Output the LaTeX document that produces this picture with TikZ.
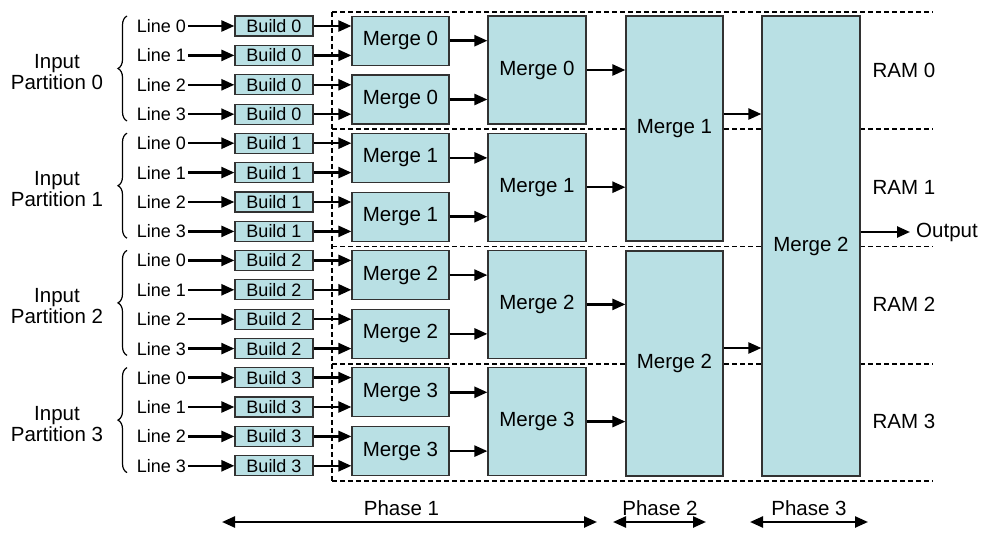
\documentclass[tikz,border=0pt]{standalone}
\usepackage{fontspec}
\setmainfont{Liberation Sans}
\usetikzlibrary{arrows.meta,decorations.pathreplacing,calc}
\definecolor{boxfill}{RGB}{185,224,228}
\definecolor{boxline}{RGB}{50,50,50}
\begin{document}
\begin{tikzpicture}[x=1pt,y=-1pt,
 box/.style={draw=boxline,line width=1.2pt,fill=boxfill,inner sep=0pt,font=\fontsize{20.5}{22}\selectfont},
 bbox/.style={box,minimum width=78pt,minimum height=20pt,font=\fontsize{18}{20}\selectfont},
 lbl/.style={inner sep=0pt,font=\fontsize{18}{20}\selectfont},
 big/.style={inner sep=0pt,font=\fontsize{20.5}{21}\selectfont,align=center},
 arr/.style={line width=2.4pt,-{Triangle[length=13pt,width=11pt]}},
 darr/.style={line width=2.4pt,{Triangle[length=13pt,width=11pt]}-{Triangle[length=13pt,width=11pt]}},
 region/.style={line width=1.6pt,dash pattern=on 5pt off 3pt},
 brc/.style={decorate,decoration={brace,amplitude=9pt},line width=1.2pt}
]
\useasboundingbox (0,0) rectangle (981,534);
% dashed RAM regions
\coordinate (rtl) at (332,12);
\coordinate (rbl) at (332,481);
\draw[region] (rtl) -- (rbl);
\foreach \p in {0,...,4}{
  \pgfmathsetmacro\yy{12+117.25*\p}
  \draw[region] (332,\yy) -- (933,\yy);
}
\foreach \p in {0,...,3}{
  \pgfmathsetmacro\dy{117.2*\p}
  % input label and brace
  \node[big] (I\p) at (57,{72+\dy}) {Input\\Partition \p};
  \draw[brc] (127,{121+\dy}) -- (127,{16+\dy});
  % small merges
  \foreach \j in {0,1}{
    \node[box,minimum width=97pt,minimum height=49pt] (M\p\j) at (400.5,{40.7+\dy+58.8*\j}) {Merge \p};
  }
  % level 2 merge
  \node[box,minimum width=98pt,minimum height=108pt] (N\p) at (537,{70+\dy}) {Merge \p};
  \foreach \j in {0,1}{
    \draw[arr] (M\p\j.east) -- (M\p\j.east -| N\p.west);
  }
  % lines and builds
  \foreach \k in {0,...,3}{
    \pgfmathsetmacro\ry{26+\dy+29.4*\k}
    \pgfmathtruncatemacro\jj{int(\k/2)}
    \node[lbl,anchor=east] (L\p\k) at (186,\ry) {Line \k};
    \node[bbox] (B\p\k) at (274,\ry) {Build \p};
    \draw[arr] ([xshift=2pt]L\p\k.east) -- (B\p\k.west);
    \draw[arr] (B\p\k.east) -- (B\p\k.east -| M\p\jj.west);
  }
  % RAM labels
  \node[big] (R\p) at (904,{70+\dy}) {RAM \p};
}
% phase 2
\node[box,minimum width=97pt,minimum height=225pt] (P0) at (674.5,128.5) {Merge 1};
\node[box,minimum width=97pt,minimum height=225pt] (P1) at (674.5,363.5) {Merge 2};
\draw[arr] (N0.east) -- (N0.east -| P0.west);
\draw[arr] (N1.east) -- (N1.east -| P0.west);
\draw[arr] (N2.east) -- (N2.east -| P1.west);
\draw[arr] (N3.east) -- (N3.east -| P1.west);
% phase 3
\node[box,minimum width=98pt,minimum height=460pt] (Q) at (811,246) {Merge 2};
\coordinate (ya) at (0,114);
\coordinate (yb) at (0,348);
\draw[arr] (P0.east |- ya) -- (Q.west |- ya);
\draw[arr] (P1.east |- yb) -- (Q.west |- yb);
% output
\node[big,anchor=west] (outlbl) at (916,232) {Output};
\coordinate (yo) at (0,232);
\draw[arr] (Q.east |- yo) -- ([xshift=-6pt]outlbl.west);
% phases
\node[big,anchor=base] (ph1) at (401.5,515) {Phase 1};
\node[big,anchor=base] (ph2) at (660,515) {Phase 2};
\node[big,anchor=base] (ph3) at (809,515) {Phase 3};
\coordinate (a1) at (222,522); \coordinate (b1) at (597,522);
\coordinate (a2) at (613,522); \coordinate (b2) at (706,522);
\coordinate (a3) at (750,522); \coordinate (b3) at (868,522);
\draw[darr] (a1) -- (b1);
\draw[darr] (a2) -- (b2);
\draw[darr] (a3) -- (b3);
\end{tikzpicture}
\end{document}
